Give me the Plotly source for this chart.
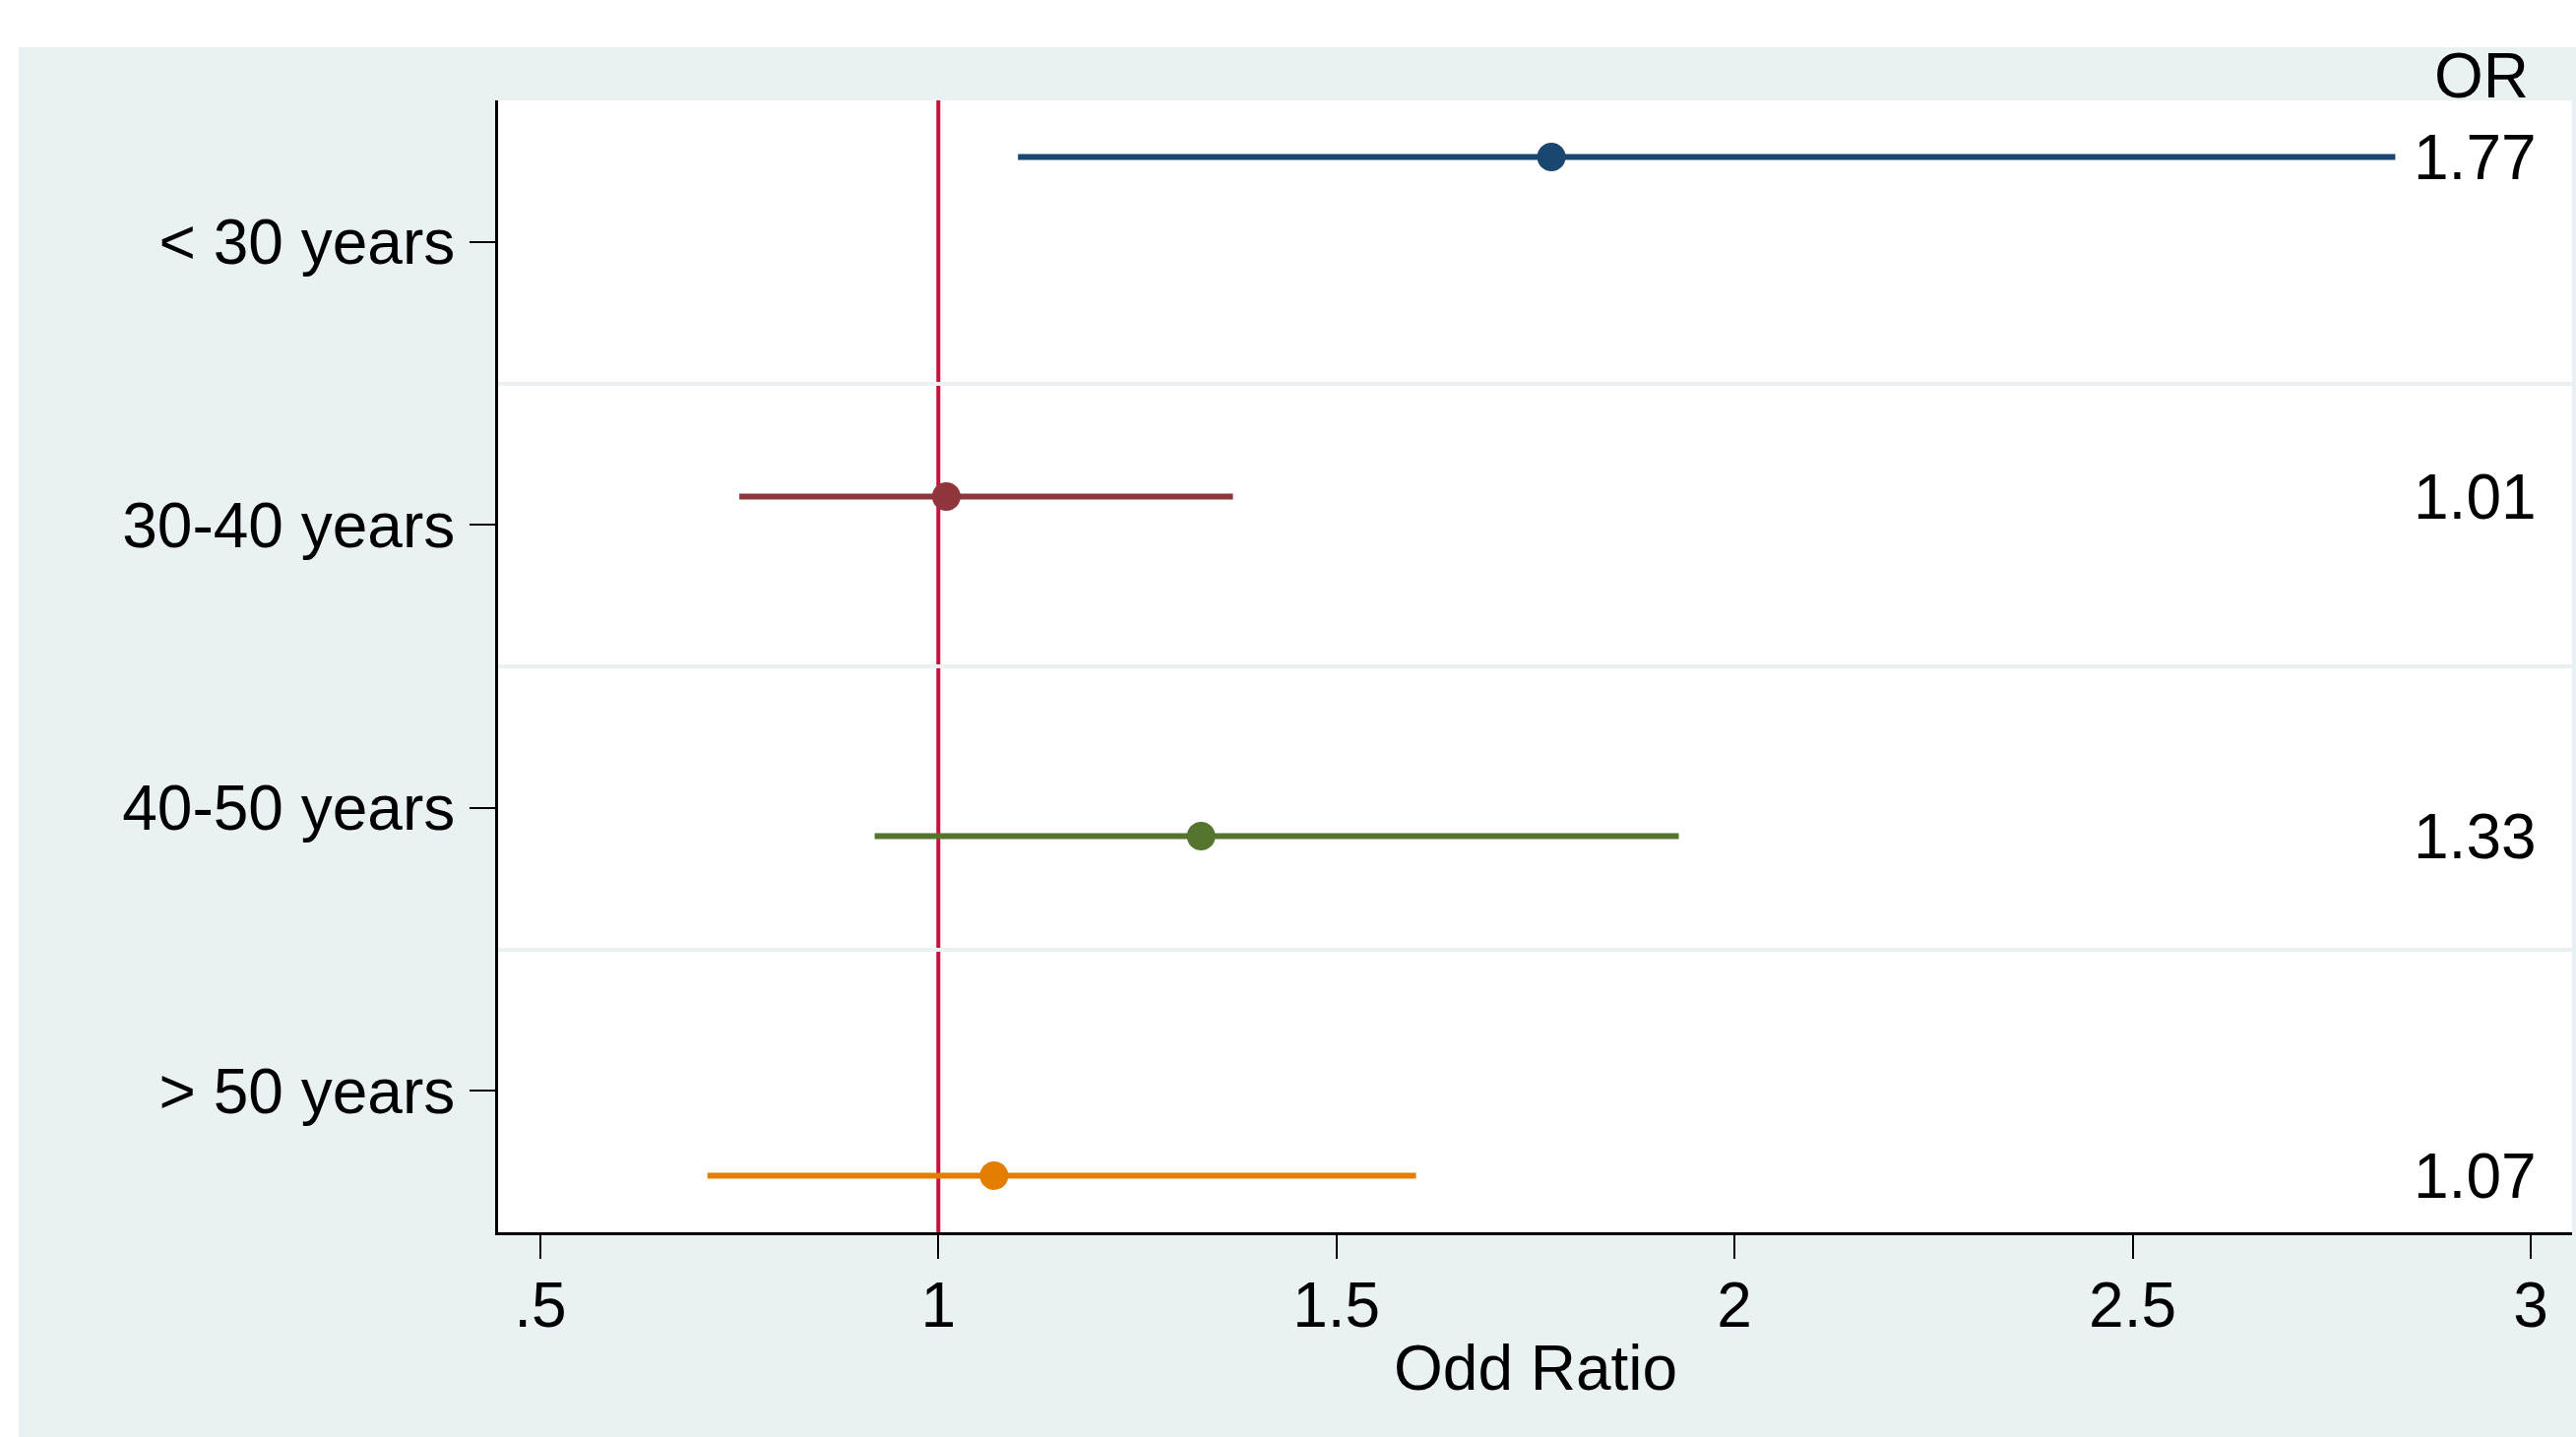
import plotly.graph_objects as go

# ---- data ----
categories = ["< 30 years", "30-40 years", "40-50 years", "> 50 years"]
odds_ratio = [1.77, 1.01, 1.33, 1.07]
ci_low = [1.10, 0.75, 0.92, 0.71]
ci_high = [2.83, 1.37, 1.93, 1.60]
or_labels = ["1.77", "1.01", "1.33", "1.07"]
colors = ["#1a476f", "#90353b", "#55752f", "#e37e00"]
x_tickvals = [0.5, 1, 1.5, 2, 2.5, 3]
x_ticktext = [".5", "1", "1.5", "2", "2.5", "3"]
ref_value = 1

W, H = 2617, 1460
ML, MR, MT, MB = 506, 4, 102, 208
FONT = "Liberation Sans, Arial, sans-serif"
FS = 64
BG = "#eaf1f3"

n = len(categories)
ypos = list(range(1, n + 1))
pad = 1 / 6
y_lo, y_hi = 1 - pad, n + pad
band = (y_hi - y_lo) / n
label_pos = [y_lo + band * (i + 0.5) for i in range(n)]

fig = go.Figure()
for i in range(n):
    fig.add_trace(go.Scatter(
        x=[odds_ratio[i]], y=[ypos[i]], mode="markers",
        marker=dict(color=colors[i], size=29, line=dict(width=0)),
        error_x=dict(type="data", symmetric=False,
                     array=[ci_high[i] - odds_ratio[i]],
                     arrayminus=[odds_ratio[i] - ci_low[i]],
                     color=colors[i], thickness=6, width=0),
        showlegend=False, hoverinfo="skip"))

fig.add_vline(x=ref_value, line=dict(color="#c8103c", width=4), layer="below")

# right-hand OR labels
for i in range(n):
    fig.add_annotation(x=3.01, y=ypos[i], xref="x", yref="y", text=or_labels[i],
                       showarrow=False, xanchor="right", yanchor="middle",
                       font=dict(family=FONT, size=FS, color="black"))
pw = W - ML - MR
ph = H - MT - MB
fig.add_annotation(x=3.0, y=1 + 25 / ph, xref="x", yref="paper", text="OR",
                   showarrow=False, xanchor="right", yanchor="middle",
                   font=dict(family=FONT, size=FS, color="black"))

# axis title
fig.add_annotation(x=0.5, y=0, xref="paper", yref="paper", text="Odd Ratio",
                   showarrow=False, xanchor="center", yanchor="top", yshift=-100,
                   font=dict(family=FONT, size=FS, color="black"))

# white outer strips (top and left)
fig.add_shape(type="rect", xref="paper", yref="paper",
              x0=-ML / pw - 0.01, x1=(W - ML) / pw + 0.01, y0=(H - MB - 48) / ph, y1=(H - MB) / ph + 0.1,
              fillcolor="white", line=dict(width=0), layer="below")
fig.add_shape(type="rect", xref="paper", yref="paper",
              x0=-ML / pw - 0.01, x1=(19 - ML) / pw, y0=-MB / ph - 0.1, y1=(H - MB) / ph + 0.1,
              fillcolor="white", line=dict(width=0), layer="below")

fig.update_layout(
    width=W, height=H,
    margin=dict(l=ML, r=MR, t=MT, b=MB, pad=0),
    paper_bgcolor=BG, plot_bgcolor="white",
    font=dict(family=FONT, size=FS, color="black"),
    showlegend=False,
)
fig.update_xaxes(
    range=[0.447, 3.052], tickvals=x_tickvals, ticktext=x_ticktext,
    showgrid=False, zeroline=False,
    showline=True, linecolor="black", linewidth=3,
    ticks="outside", ticklen=24, tickwidth=2, tickcolor="black",
    ticklabelstandoff=-8,
    tickfont=dict(family=FONT, size=FS, color="black"),
)
fig.update_yaxes(
    range=[y_hi, y_lo], tickvals=label_pos, ticktext=categories,
    showgrid=False, zeroline=False,
    showline=True, linecolor="black", linewidth=3,
    ticks="outside", ticklen=26, tickwidth=2, tickcolor="black",
    ticklabelstandoff=2,
    tickfont=dict(family=FONT, size=FS, color="black"),
    minor=dict(tick0=y_lo, dtick=band, showgrid=True, gridcolor=BG, gridwidth=4, ticks=""),
)

fig.write_html("out.html", config={"displayModeBar": False},
               post_script="document.body.style.margin='0px';")
